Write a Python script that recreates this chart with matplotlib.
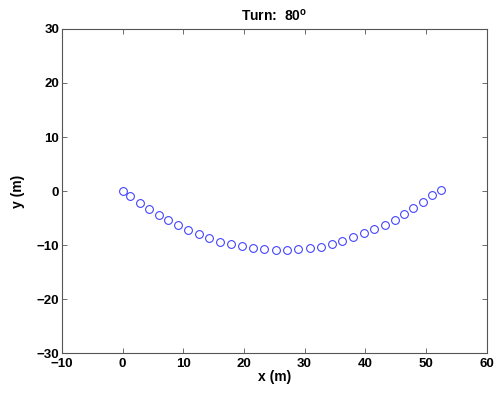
import numpy as np
import matplotlib
matplotlib.use("Agg")
import matplotlib.pyplot as plt

plt.rcParams['font.family'] = ['Liberation Sans', 'DejaVu Sans']
plt.rcParams['font.weight'] = 'bold'
plt.rcParams['mathtext.fontset'] = 'custom'
plt.rcParams['mathtext.rm'] = 'Liberation Sans:bold'
plt.rcParams['mathtext.bf'] = 'Liberation Sans:bold'

# path points (m)
x_m = [0.0, 1.29, 2.82, 4.35, 5.95, 7.55, 9.2, 10.79, 12.55, 14.25, 16.06,
       17.94, 19.69, 21.46, 23.32, 25.3, 27.07, 28.88, 30.86, 32.67, 34.54,
       36.25, 38.0, 39.82, 41.53, 43.28, 44.83, 46.36, 47.9, 49.45, 50.98, 52.47]
y_m = [0.0, -1.0, -2.26, -3.37, -4.4, -5.33, -6.26, -7.2, -7.9, -8.65, -9.35,
       -9.8, -10.2, -10.6, -10.8, -10.9, -10.9, -10.8, -10.6, -10.3, -9.8,
       -9.2, -8.55, -7.8, -7.07, -6.2, -5.33, -4.2, -3.1, -2.07, -0.7, 0.28]
xticks = [-10, 0, 10, 20, 30, 40, 50, 60]
yticks = [-30, -20, -10, 0, 10, 20, 30]

fig = plt.figure(figsize=(5.0, 3.96), dpi=100)
ax = fig.add_axes([0.124, 0.108, 0.849, 0.819])
ax.plot(x_m, y_m, 'o', markersize=5.6, markerfacecolor='none',
        markeredgecolor='#3a3aff', markeredgewidth=0.75)

ax.set_xlim(-10, 60)
ax.set_ylim(-30, 30)
ax.set_xticks(xticks)
ax.set_yticks(yticks)
ax.tick_params(direction='in', length=3.5, width=0.6, top=True, right=True,
               labelsize=9.5, color='#555555')
ax.tick_params(axis='x', pad=3.5)
ax.tick_params(axis='y', pad=2)
for lbl in ax.get_xticklabels() + ax.get_yticklabels():
    lbl.set_fontweight('bold')
for sp in ax.spines.values():
    sp.set_linewidth(0.8)
    sp.set_color('#555555')

ax.set_xlabel('x (m)', fontsize=10, fontweight='bold', labelpad=0)
ax.set_ylabel('y (m)', fontsize=10, fontweight='bold', labelpad=8)
ax.set_title('Turn:  80$^{\\mathrm{o}}$', fontsize=10, fontweight='bold', pad=6)

fig.savefig('out.png', dpi=100)
